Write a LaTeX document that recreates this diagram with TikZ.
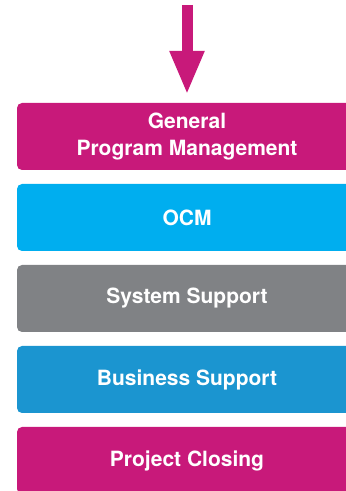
\documentclass[tikz,border=0pt]{standalone}
\usepackage{fontspec}
\setmainfont{TeX Gyre Heros}
\usetikzlibrary{arrows.meta,calc}
\definecolor{PhaseMagenta}{HTML}{C8197A}
\definecolor{PhaseCyan}{HTML}{00AEEF}
\definecolor{PhaseGrey}{HTML}{808285}
\definecolor{PhaseBlue}{HTML}{1B95D0}

\tikzset{
  phase/.style={rectangle,rounded corners=5pt,inner sep=0pt,
    minimum width=340pt,minimum height=67pt,text=white,align=center,
    font=\bfseries\fontsize{21}{26.5}\selectfont},
  flow/.style={line width=11pt,color=PhaseMagenta,
    -{Triangle[width=32pt,length=44pt]}}
}

\begin{document}
\begin{tikzpicture}[x=1pt,y=1pt]
\useasboundingbox (0,0) rectangle (346,491);
\clip (0,0) rectangle (346,491);

\node[phase,fill=PhaseMagenta] (gpm) at (187,354.5) {General\\Program Management};
\node[phase,fill=PhaseCyan] (ocm) at (187,273.5) {OCM};
\node[phase,fill=PhaseGrey] (sys) at (187,192.5) {System Support};
\node[phase,fill=PhaseBlue] (bus) at (187,111.5) {Business Support};
\node[phase,fill=PhaseMagenta] (close) at (187,30.5) {Project Closing};

\coordinate (start) at (187,486);
\draw[flow,shorten >=8pt] (start) -- (gpm.north);

\end{tikzpicture}
\end{document}
